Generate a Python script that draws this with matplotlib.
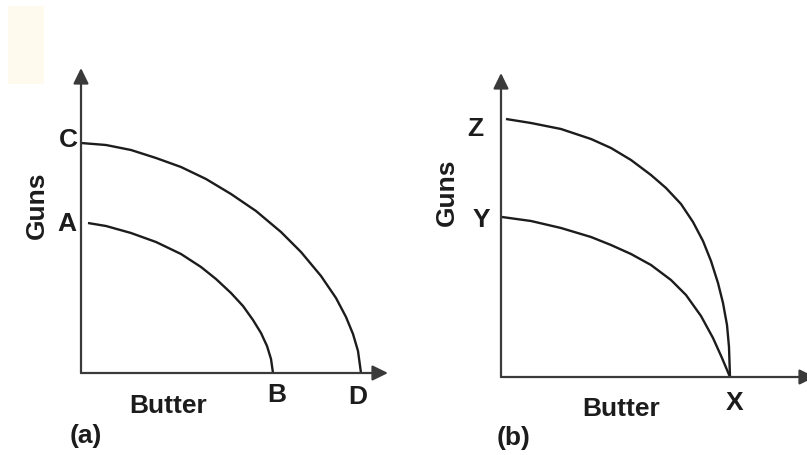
import matplotlib.pyplot as plt

plt.rcParams['font.family'] = ['Liberation Sans', 'DejaVu Sans']

W, H = 807, 455

# frontier (a): butter / guns, 1 unit = 10 px
ppf_cd_x = [0.0, 2.5, 5.0, 7.5, 10.0, 12.5, 15.0, 17.5, 20.0, 22.0, 24.0, 25.5, 26.5, 27.2, 27.7, 28.0]
ppf_cd_y = [23.0, 22.8, 22.3, 21.5, 20.6, 19.4, 17.9, 16.2, 14.1, 12.1, 9.7, 7.5, 5.6, 3.9, 2.2, 0.0]
ppf_ab_x = [0.7, 2.5, 5.0, 7.5, 10.0, 12.0, 13.5, 15.0, 16.2, 17.2, 18.0, 18.6, 19.0, 19.2]
ppf_ab_y = [15.0, 14.7, 14.0, 13.1, 11.9, 10.6, 9.4, 8.0, 6.7, 5.3, 4.0, 2.7, 1.4, 0.0]

# frontier (b)
ppf_zx_x = [0.5, 3.0, 6.0, 9.0, 11.0, 13.0, 15.0, 16.5, 18.0, 19.2, 20.2, 21.0, 21.7, 22.2, 22.6, 22.8, 22.9]
ppf_zx_y = [25.8, 25.4, 24.8, 23.8, 22.9, 21.7, 20.2, 18.9, 17.3, 15.5, 13.6, 11.6, 9.4, 7.4, 5.2, 3.0, 0.0]
ppf_yx_x = [0.1, 3.0, 6.0, 9.0, 11.0, 13.0, 15.0, 17.0, 18.5, 20.0, 21.2, 22.1, 22.9]
ppf_yx_y = [16.0, 15.6, 14.9, 14.0, 13.2, 12.3, 11.2, 9.7, 8.2, 6.1, 3.9, 1.9, 0.0]

# intercept labels: (text, x, y, dx, dy) with offsets in pixels
labels_a = [('C', 0.0, 23.0, -13, -4), ('A', 0.0, 15.0, -14.5, -8),
            ('B', 19.2, 0.0, 3.5, -29), ('D', 28.0, 0.0, -3.5, -31)]
labels_b = [('Z', 0.0, 25.8, -26, -17), ('Y', 0.0, 16.0, -20, -10),
            ('X', 22.9, 0.0, 4.5, -33)]

INK = '#1c1c1c'
AXIS = '#3a3a3a'
FS = 19


def px(x, y):
    return x / W, 1 - y / H


def make_axes(fig, x0, y0, x1, y1):
    # x0,y0 = origin pixel, x1 = x arrow tip, y1 = y arrow tip
    ax = fig.add_axes([x0 / W, 1 - y0 / H, (x1 - x0) / W, (y0 - y1) / H])
    ax.set_xlim(0, (x1 - x0) / 10)
    ax.set_ylim(0, (y0 - y1) / 10)
    ax.axis('off')
    arrow = dict(arrowstyle='-|>,head_length=0.55,head_width=0.27',
                 color=AXIS, lw=1.6, shrinkA=0, shrinkB=0, mutation_scale=17)
    ax.annotate('', xy=(1, 0), xytext=(0, 0), xycoords='axes fraction',
                arrowprops=arrow, annotation_clip=False)
    ax.annotate('', xy=(0, 1), xytext=(0, 0), xycoords='axes fraction',
                arrowprops=arrow, annotation_clip=False)
    return ax


def put_labels(ax, labels):
    for txt, x, y, dx, dy in labels:
        ax.annotate(txt, xy=(x, y), xytext=(dx, dy), textcoords='offset pixels',
                    ha='center', va='baseline', fontsize=FS, fontweight='bold',
                    color=INK, annotation_clip=False)


fig = plt.figure(figsize=(W / 100, H / 100), dpi=100)

# pale note box in the top corner
fig.patches.append(plt.Rectangle(px(8, 84), 36 / W, 78 / H, transform=fig.transFigure,
                                 facecolor='#fffaee', edgecolor='none'))

curve = dict(color=INK, lw=1.7, solid_joinstyle='round', solid_capstyle='butt')

ax1 = make_axes(fig, 81, 373, 388, 68)
ax1.plot(ppf_cd_x, ppf_cd_y, **curve)
ax1.plot(ppf_ab_x, ppf_ab_y, **curve)
put_labels(ax1, labels_a)

ax2 = make_axes(fig, 501, 377, 815, 73)
ax2.plot(ppf_zx_x, ppf_zx_y, **curve)
ax2.plot(ppf_yx_x, ppf_yx_y, **curve)
put_labels(ax2, labels_b)

txt = dict(fontsize=FS, fontweight='bold', color=INK)
fig.text(*px(37, 205), 'Guns', rotation=90, ha='center', va='center', **txt)
fig.text(*px(447, 192), 'Guns', rotation=90, ha='center', va='center', **txt)
fig.text(*px(168, 413), 'Butter', ha='center', va='baseline', **txt)
fig.text(*px(621.5, 416), 'Butter', ha='center', va='baseline', **txt)
fig.text(*px(85.5, 443.5), '(a)', ha='center', va='baseline', **txt)
fig.text(*px(514, 445), '(b)', ha='center', va='baseline', **txt)

fig.savefig('out.png', dpi=100)
